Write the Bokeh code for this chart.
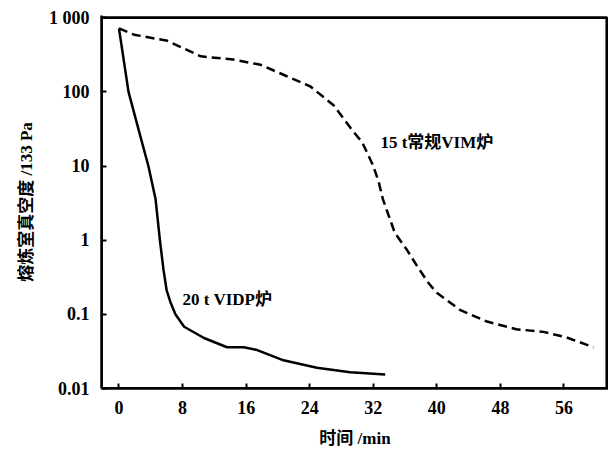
from bokeh.plotting import figure
from bokeh.models import Range1d, FixedTicker, Label, BoxAnnotation
from bokeh.embed import file_html
from bokeh.resources import INLINE

# 20 t VIDP furnace (solid)
vidp_t = [0, 1.2, 2.5, 3.7, 4.6, 5.15, 5.6, 6.0, 6.5, 7.1, 8.2, 10.7, 13.6, 15.7, 17.4, 20.7, 24.9, 29.1, 33.5]
vidp_p = [716, 100, 30, 10, 3.6, 1.0, 0.4, 0.21, 0.143, 0.1, 0.068, 0.048, 0.036, 0.036, 0.033, 0.024, 0.019, 0.0166, 0.0155]

# 15 t conventional VIM furnace (dashed)
vim_t = [0, 1.9, 6.1, 10.3, 14.4, 17.8, 20.7, 24.1, 27.0, 29.5, 30.6, 32.0, 32.7, 33.2, 34.7, 36.2, 37.5, 39.0, 40.0,
         42.9, 46.3, 50.0, 53.4, 56.3, 59.7]
vim_p = [716, 590, 487, 301, 272, 232, 170, 118, 66, 29, 21, 10, 6, 3.6, 1.26, 0.75, 0.45, 0.26, 0.195,
         0.115, 0.08, 0.063, 0.058, 0.049, 0.036]

x_ticks = [0, 8, 16, 24, 32, 40, 48, 56]
y_ticks = [0.01, 0.1, 1, 10, 100, 1000]
y_tick_labels = ["0.01", "0.1", "1", "10", "100", "1 000"]

label_texts = ["15 t常规VIM炉", "20 t VIDP炉"]
label_x = [32.9, 8.0]
label_y = [21, 0.158]

# box of the chart (data units)
X_START, X_END = -2.2, 61.4
Y_START, Y_END = 0.01, 1000
# small padding so the box edges sit inside the plotting frame
X_PAD = 0.2
Y_PAD = 1.07

FONT = "Liberation Serif, Noto Sans CJK SC"

p = figure(width=608, height=454, output_backend="svg", toolbar_location=None,
           y_axis_type="log",
           x_range=Range1d(X_START, X_END + X_PAD), y_range=Range1d(Y_START, Y_END * Y_PAD),
           min_border_left=101, min_border_right=0, min_border_top=15, min_border_bottom=66)

# box edges (several ways, so that one of them shows)
p.quad(left=[X_START], right=[X_END], bottom=[Y_START], top=[Y_END],
       fill_color=None, line_color="black", line_width=2.5)
p.add_layout(BoxAnnotation(left=X_START, right=X_END, bottom=Y_START, top=Y_END,
                           fill_alpha=0, fill_color=None, line_color="black", line_width=2.5, line_alpha=1))

p.line(vidp_t, vidp_p, line_color="black", line_width=2.5)
p.line(vim_t, vim_p, line_color="black", line_width=2.5, line_dash="9 5")

for txt, lx, ly in zip(label_texts, label_x, label_y):
    p.add_layout(Label(x=lx, y=ly, text=txt, text_font=FONT, text_font_style="bold",
                       text_font_size="17px", text_baseline="middle", text_align="left", text_color="black"))

p.xgrid.visible = False
p.ygrid.visible = False
p.outline_line_color = None

p.xaxis.ticker = FixedTicker(ticks=x_ticks)
p.yaxis.ticker = FixedTicker(ticks=y_ticks)
p.yaxis.major_label_overrides = {t: l for t, l in zip(y_ticks, y_tick_labels)}

for ax in (p.xaxis, p.yaxis):
    ax.axis_line_width = 2.5
    ax.axis_line_color = "black"
    ax.major_tick_in = 5
    ax.major_tick_out = 0
    ax.major_tick_line_width = 2
    ax.minor_tick_in = 0
    ax.minor_tick_out = 0
    ax.major_label_text_font = FONT
    ax.major_label_text_font_style = "bold"
    ax.major_label_text_font_size = "18px"
    ax.major_label_text_color = "black"
    ax.axis_label_text_font = FONT
    ax.axis_label_text_font_style = "bold"
    ax.axis_label_text_font_size = "17px"
    ax.axis_label_text_color = "black"

p.xaxis.axis_label = "时间 /min"
p.yaxis.axis_label = "熔炼室真空度 /133 Pa"
p.xaxis.major_label_standoff = 12
p.yaxis.major_label_standoff = 12
p.xaxis.axis_label_standoff = 12
p.yaxis.axis_label_standoff = 10

open("out.html", "w").write(file_html(p, INLINE))
